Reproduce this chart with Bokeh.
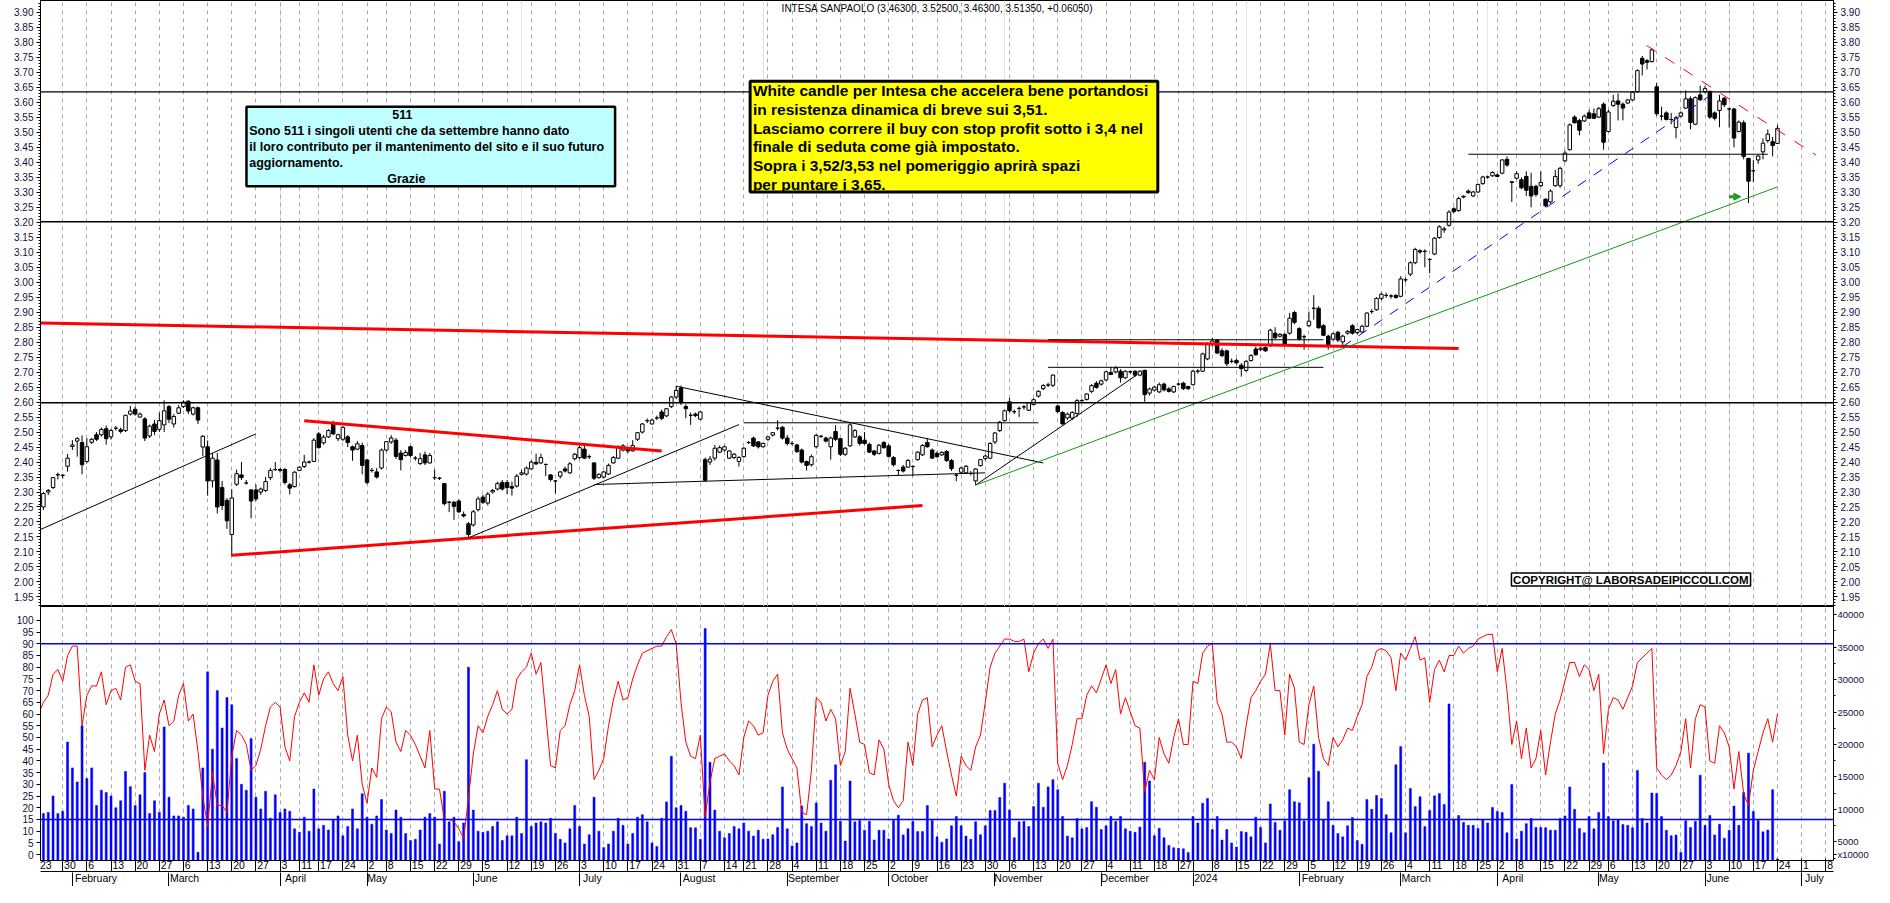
import pandas as pd
from bokeh.plotting import figure
from bokeh.layouts import column
from bokeh.models import (Range1d, LinearAxis, FixedTicker, Grid, Span, Label,
                          BoxAnnotation, NumeralTickFormatter, Arrow, NormalHead)
from bokeh.embed import file_html
from bokeh.resources import INLINE

# ---------------- data ----------------
opens = [
 2.235, 2.25, 2.30, 2.315, 2.357, 2.355, 2.386, 2.452, 2.47, 2.465,
 2.402, 2.466, 2.491, 2.491, 2.511, 2.484, 2.513, 2.508, 2.505, 2.56,
 2.576, 2.55, 2.544, 2.487, 2.527, 2.509, 2.524, 2.585, 2.527, 2.563,
 2.585, 2.603, 2.56, 2.581, 2.45, 2.451, 2.337, 2.407, 2.315, 2.272,
 2.158, 2.326, 2.357, 2.33, 2.307, 2.307, 2.30, 2.305, 2.348, 2.375,
 2.375, 2.375, 2.324, 2.318, 2.372, 2.385, 2.40, 2.402, 2.494, 2.464,
 2.484, 2.527, 2.478, 2.476, 2.484, 2.451, 2.443, 2.455, 2.407, 2.372,
 2.367, 2.38, 2.44, 2.467, 2.473, 2.43, 2.422, 2.451, 2.413, 2.395,
 2.424, 2.397, 2.348, 2.346, 2.328, 2.266, 2.266, 2.27, 2.225, 2.194,
 2.19, 2.241, 2.283, 2.263, 2.30, 2.31, 2.332, 2.332, 2.318, 2.32,
 2.359, 2.36, 2.377, 2.399, 2.397, 2.392, 2.357, 2.337, 2.353, 2.377,
 2.364, 2.411, 2.415, 2.443, 2.418, 2.397, 2.348, 2.35, 2.36, 2.397,
 2.413, 2.44, 2.446, 2.437, 2.476, 2.50, 2.538, 2.527, 2.547, 2.567,
 2.554, 2.585, 2.617, 2.647, 2.585, 2.556, 2.56, 2.543, 2.408, 2.40,
 2.413, 2.433, 2.44, 2.413, 2.415, 2.402, 2.418, 2.465, 2.48, 2.467,
 2.451, 2.476, 2.49, 2.513, 2.516, 2.48, 2.462, 2.457, 2.44, 2.402,
 2.391, 2.451, 2.486, 2.48, 2.451, 2.502, 2.478, 2.426, 2.454, 2.484,
 2.484, 2.473, 2.459, 2.437, 2.429, 2.465, 2.454, 2.415, 2.372, 2.383,
 2.383, 2.385, 2.408, 2.424, 2.465, 2.44, 2.429, 2.424, 2.435, 2.405,
 2.356, 2.366, 2.364, 2.362, 2.337, 2.388, 2.412, 2.413, 2.467, 2.505,
 2.538, 2.601, 2.568, 2.579, 2.584, 2.573, 2.592, 2.62, 2.645, 2.657,
 2.656, 2.587, 2.565, 2.547, 2.547, 2.562, 2.605, 2.609, 2.636, 2.663,
 2.66, 2.674, 2.699, 2.701, 2.703, 2.681, 2.701, 2.703, 2.69, 2.706,
 2.63, 2.64, 2.634, 2.66, 2.644, 2.634, 2.66, 2.663, 2.652, 2.658,
 2.703, 2.703, 2.744, 2.793, 2.807, 2.771, 2.771, 2.736, 2.739, 2.723,
 2.706, 2.739, 2.777, 2.775, 2.782, 2.788, 2.83, 2.82, 2.826, 2.83,
 2.899, 2.845, 2.818, 2.855, 2.913, 2.913, 2.855, 2.82, 2.81, 2.833,
 2.801, 2.83, 2.855, 2.832, 2.834, 2.853, 2.902, 2.908, 2.946, 2.956,
 2.954, 2.956, 2.953, 3.008, 3.027, 3.065, 3.105, 3.103, 3.076, 3.094,
 3.149, 3.175, 3.19, 3.245, 3.239, 3.284, 3.304, 3.288, 3.301, 3.329,
 3.351, 3.355, 3.358, 3.364, 3.41, 3.335, 3.347, 3.342, 3.353, 3.32,
 3.32, 3.322, 3.277, 3.268, 3.322, 3.322, 3.405, 3.442, 3.551, 3.54,
 3.538, 3.565, 3.562, 3.551, 3.594, 3.503, 3.59, 3.605, 3.594, 3.598,
 3.608, 3.636, 3.747, 3.739, 3.736, 3.652, 3.554, 3.565, 3.543, 3.516,
 3.554, 3.581, 3.612, 3.527, 3.625, 3.636, 3.636, 3.565, 3.573, 3.614,
 3.578, 3.578, 3.503, 3.532, 3.413, 3.372, 3.408, 3.435, 3.473, 3.469,
 3.463]

highs = [
 2.25, 2.30, 2.31, 2.35, 2.365, 2.36, 2.427, 2.473, 2.483, 2.489,
 2.48, 2.48, 2.50, 2.515, 2.522, 2.51, 2.52, 2.515, 2.558, 2.587,
 2.585, 2.565, 2.55, 2.525, 2.54, 2.565, 2.606, 2.59, 2.56, 2.59,
 2.606, 2.606, 2.585, 2.585, 2.49, 2.472, 2.43, 2.43, 2.337, 2.28,
 2.31, 2.375, 2.40, 2.34, 2.31, 2.325, 2.315, 2.35, 2.38, 2.40,
 2.38, 2.38, 2.33, 2.37, 2.385, 2.424, 2.405, 2.48, 2.50, 2.49,
 2.51, 2.538, 2.495, 2.52, 2.49, 2.455, 2.47, 2.465, 2.41, 2.38,
 2.38, 2.445, 2.47, 2.49, 2.48, 2.44, 2.44, 2.455, 2.42, 2.43,
 2.435, 2.43, 2.375, 2.35, 2.33, 2.27, 2.27, 2.275, 2.235, 2.20,
 2.24, 2.285, 2.29, 2.30, 2.31, 2.335, 2.34, 2.34, 2.335, 2.36,
 2.375, 2.385, 2.405, 2.428, 2.428, 2.395, 2.36, 2.34, 2.37, 2.385,
 2.40, 2.43, 2.455, 2.462, 2.425, 2.40, 2.362, 2.37, 2.395, 2.42,
 2.455, 2.46, 2.45, 2.473, 2.50, 2.53, 2.545, 2.545, 2.555, 2.575,
 2.58, 2.62, 2.655, 2.655, 2.593, 2.565, 2.565, 2.57, 2.415, 2.42,
 2.457, 2.455, 2.455, 2.44, 2.43, 2.42, 2.45, 2.47, 2.485, 2.47,
 2.465, 2.487, 2.50, 2.54, 2.52, 2.49, 2.47, 2.46, 2.445, 2.405,
 2.425, 2.495, 2.49, 2.485, 2.485, 2.523, 2.48, 2.45, 2.53, 2.51,
 2.49, 2.50, 2.465, 2.44, 2.46, 2.47, 2.46, 2.42, 2.375, 2.39,
 2.41, 2.39, 2.436, 2.46, 2.48, 2.445, 2.435, 2.436, 2.44, 2.41,
 2.36, 2.385, 2.39, 2.37, 2.38, 2.41, 2.425, 2.466, 2.50, 2.537,
 2.575, 2.614, 2.575, 2.585, 2.59, 2.60, 2.612, 2.64, 2.66, 2.665,
 2.693, 2.59, 2.57, 2.565, 2.57, 2.61, 2.61, 2.63, 2.66, 2.67,
 2.675, 2.705, 2.718, 2.72, 2.71, 2.706, 2.706, 2.706, 2.706, 2.708,
 2.648, 2.655, 2.665, 2.665, 2.65, 2.655, 2.665, 2.668, 2.655, 2.708,
 2.71, 2.765, 2.80, 2.815, 2.81, 2.78, 2.775, 2.745, 2.745, 2.73,
 2.74, 2.76, 2.785, 2.785, 2.786, 2.845, 2.85, 2.83, 2.83, 2.897,
 2.905, 2.85, 2.825, 2.902, 2.957, 2.92, 2.86, 2.825, 2.832, 2.838,
 2.825, 2.84, 2.86, 2.845, 2.858, 2.90, 2.91, 2.95, 2.965, 2.965,
 2.96, 2.96, 3.02, 3.015, 3.07, 3.115, 3.11, 3.11, 3.08, 3.15,
 3.19, 3.185, 3.24, 3.25, 3.285, 3.29, 3.31, 3.305, 3.33, 3.355,
 3.356, 3.37, 3.362, 3.41, 3.42, 3.337, 3.37, 3.35, 3.37, 3.365,
 3.325, 3.37, 3.28, 3.31, 3.375, 3.385, 3.44, 3.53, 3.557, 3.545,
 3.56, 3.575, 3.58, 3.585, 3.60, 3.575, 3.625, 3.63, 3.60, 3.612,
 3.638, 3.71, 3.755, 3.745, 3.78, 3.665, 3.586, 3.57, 3.565, 3.555,
 3.57, 3.64, 3.62, 3.62, 3.656, 3.655, 3.64, 3.57, 3.625, 3.618,
 3.582, 3.582, 3.54, 3.54, 3.415, 3.408, 3.425, 3.48, 3.51, 3.485,
 3.525]

lows = [
 2.225, 2.24, 2.29, 2.31, 2.342, 2.345, 2.368, 2.44, 2.418, 2.359,
 2.395, 2.46, 2.47, 2.485, 2.458, 2.475, 2.505, 2.495, 2.50, 2.555,
 2.555, 2.548, 2.47, 2.48, 2.49, 2.50, 2.50, 2.53, 2.515, 2.56,
 2.58, 2.56, 2.555, 2.527, 2.42, 2.288, 2.315, 2.228, 2.24, 2.177,
 2.087, 2.32, 2.34, 2.325, 2.212, 2.27, 2.29, 2.30, 2.34, 2.37,
 2.365, 2.325, 2.292, 2.315, 2.37, 2.38, 2.395, 2.40, 2.445, 2.458,
 2.48, 2.49, 2.47, 2.47, 2.45, 2.404, 2.44, 2.359, 2.326, 2.365,
 2.345, 2.375, 2.435, 2.46, 2.41, 2.372, 2.418, 2.415, 2.405, 2.39,
 2.39, 2.395, 2.34, 2.34, 2.255, 2.233, 2.207, 2.23, 2.215, 2.149,
 2.185, 2.235, 2.26, 2.255, 2.295, 2.305, 2.305, 2.293, 2.288, 2.315,
 2.355, 2.355, 2.375, 2.39, 2.393, 2.353, 2.335, 2.295, 2.345, 2.365,
 2.36, 2.405, 2.41, 2.41, 2.41, 2.34, 2.345, 2.345, 2.357, 2.395,
 2.41, 2.435, 2.43, 2.435, 2.47, 2.495, 2.53, 2.525, 2.54, 2.54,
 2.55, 2.58, 2.61, 2.59, 2.546, 2.524, 2.55, 2.54, 2.335, 2.39,
 2.405, 2.43, 2.435, 2.41, 2.41, 2.385, 2.415, 2.46, 2.45, 2.445,
 2.448, 2.47, 2.485, 2.505, 2.475, 2.455, 2.455, 2.43, 2.395, 2.372,
 2.385, 2.445, 2.48, 2.465, 2.408, 2.47, 2.42, 2.42, 2.45, 2.48,
 2.455, 2.458, 2.43, 2.42, 2.425, 2.445, 2.415, 2.385, 2.353, 2.365,
 2.38, 2.353, 2.405, 2.42, 2.448, 2.41, 2.414, 2.42, 2.40, 2.37,
 2.336, 2.36, 2.36, 2.355, 2.323, 2.385, 2.405, 2.41, 2.46, 2.50,
 2.535, 2.565, 2.56, 2.55, 2.575, 2.57, 2.59, 2.615, 2.64, 2.65,
 2.65, 2.565, 2.525, 2.54, 2.54, 2.55, 2.60, 2.605, 2.63, 2.645,
 2.655, 2.67, 2.69, 2.695, 2.665, 2.678, 2.695, 2.685, 2.686, 2.601,
 2.622, 2.635, 2.63, 2.635, 2.632, 2.63, 2.655, 2.64, 2.64, 2.655,
 2.695, 2.70, 2.74, 2.785, 2.76, 2.75, 2.72, 2.73, 2.725, 2.685,
 2.70, 2.735, 2.755, 2.77, 2.768, 2.785, 2.81, 2.815, 2.79, 2.825,
 2.86, 2.805, 2.775, 2.85, 2.875, 2.845, 2.82, 2.775, 2.805, 2.80,
 2.79, 2.825, 2.825, 2.825, 2.83, 2.85, 2.895, 2.905, 2.94, 2.948,
 2.945, 2.945, 2.95, 3.0, 3.02, 3.06, 3.095, 3.05, 3.03, 3.09,
 3.145, 3.165, 3.185, 3.23, 3.235, 3.28, 3.295, 3.284, 3.298, 3.325,
 3.345, 3.352, 3.35, 3.36, 3.385, 3.268, 3.343, 3.31, 3.288, 3.25,
 3.285, 3.318, 3.25, 3.262, 3.318, 3.315, 3.40, 3.44, 3.53, 3.49,
 3.535, 3.545, 3.545, 3.548, 3.442, 3.50, 3.585, 3.54, 3.54, 3.595,
 3.605, 3.632, 3.69, 3.71, 3.733, 3.555, 3.54, 3.54, 3.527, 3.48,
 3.55, 3.578, 3.51, 3.525, 3.605, 3.63, 3.545, 3.54, 3.517, 3.585,
 3.516, 3.45, 3.50, 3.41, 3.264, 3.335, 3.395, 3.41, 3.465, 3.42,
 3.463]

closes = [
 2.245, 2.295, 2.305, 2.348, 2.358, 2.356, 2.413, 2.457, 2.478, 2.391,
 2.451, 2.476, 2.476, 2.509, 2.478, 2.505, 2.513, 2.502, 2.556, 2.57,
 2.56, 2.56, 2.48, 2.52, 2.502, 2.538, 2.571, 2.543, 2.552, 2.581,
 2.60, 2.57, 2.581, 2.54, 2.486, 2.337, 2.413, 2.25, 2.255, 2.204,
 2.28, 2.361, 2.348, 2.33, 2.27, 2.277, 2.31, 2.335, 2.372, 2.375,
 2.372, 2.332, 2.313, 2.366, 2.383, 2.40, 2.40, 2.473, 2.448, 2.483,
 2.505, 2.494, 2.491, 2.516, 2.465, 2.44, 2.461, 2.389, 2.332, 2.372,
 2.35, 2.44, 2.468, 2.48, 2.419, 2.408, 2.432, 2.422, 2.413, 2.411,
 2.397, 2.422, 2.348, 2.346, 2.261, 2.266, 2.252, 2.234, 2.22, 2.158,
 2.234, 2.277, 2.266, 2.293, 2.305, 2.328, 2.31, 2.315, 2.313, 2.353,
 2.364, 2.38, 2.40, 2.394, 2.415, 2.392, 2.342, 2.337, 2.367, 2.37,
 2.394, 2.426, 2.448, 2.413, 2.418, 2.346, 2.359, 2.367, 2.389, 2.415,
 2.451, 2.454, 2.437, 2.455, 2.498, 2.527, 2.538, 2.54, 2.547, 2.546,
 2.578, 2.617, 2.639, 2.598, 2.578, 2.556, 2.555, 2.567, 2.339, 2.41,
 2.446, 2.448, 2.451, 2.437, 2.426, 2.415, 2.446, 2.465, 2.454, 2.451,
 2.462, 2.484, 2.498, 2.513, 2.48, 2.462, 2.462, 2.435, 2.40, 2.389,
 2.418, 2.489, 2.486, 2.47, 2.48, 2.476, 2.426, 2.446, 2.524, 2.505,
 2.462, 2.462, 2.433, 2.426, 2.456, 2.448, 2.419, 2.391, 2.372, 2.37,
 2.405, 2.385, 2.433, 2.455, 2.451, 2.413, 2.418, 2.432, 2.405, 2.378,
 2.356, 2.38, 2.386, 2.362, 2.377, 2.408, 2.42, 2.462, 2.497, 2.533,
 2.571, 2.571, 2.568, 2.579, 2.584, 2.598, 2.608, 2.636, 2.655, 2.657,
 2.69, 2.568, 2.527, 2.56, 2.565, 2.605, 2.605, 2.627, 2.655, 2.649,
 2.671, 2.701, 2.692, 2.714, 2.681, 2.703, 2.701, 2.69, 2.703, 2.625,
 2.644, 2.65, 2.658, 2.641, 2.636, 2.652, 2.66, 2.645, 2.645, 2.703,
 2.703, 2.761, 2.793, 2.804, 2.764, 2.755, 2.728, 2.736, 2.731, 2.712,
 2.736, 2.755, 2.758, 2.78, 2.771, 2.84, 2.815, 2.826, 2.793, 2.88,
 2.866, 2.81, 2.818, 2.87, 2.913, 2.848, 2.823, 2.79, 2.828, 2.807,
 2.82, 2.836, 2.83, 2.842, 2.853, 2.897, 2.902, 2.946, 2.96, 2.956,
 2.954, 2.949, 3.011, 3.008, 3.065, 3.109, 3.101, 3.103, 3.076, 3.147,
 3.185, 3.178, 3.234, 3.236, 3.279, 3.287, 3.299, 3.301, 3.326, 3.351,
 3.351, 3.366, 3.353, 3.408, 3.391, 3.333, 3.362, 3.315, 3.307, 3.288,
 3.293, 3.333, 3.255, 3.304, 3.353, 3.38, 3.431, 3.525, 3.532, 3.507,
 3.554, 3.547, 3.547, 3.579, 3.467, 3.568, 3.604, 3.594, 3.581, 3.608,
 3.634, 3.706, 3.728, 3.734, 3.775, 3.562, 3.554, 3.543, 3.543, 3.549,
 3.565, 3.612, 3.533, 3.616, 3.609, 3.646, 3.551, 3.547, 3.605, 3.592,
 3.578, 3.481, 3.534, 3.42, 3.337, 3.372, 3.421, 3.464, 3.494, 3.456,
 3.5135]

oscillator = [
 60, 65, 68, 77, 79, 74, 85, 89, 89, 55,
 68, 72, 72, 78, 64, 70, 71, 66, 80, 81,
 74, 73, 36, 51, 44, 60, 66, 55, 57, 68,
 73, 57, 60, 44, 25, 12, 35, 21, 21, 18,
 42, 53, 51, 47, 36, 38, 45, 55, 63, 65,
 63, 46, 40, 59, 65, 69, 65, 81, 68, 75,
 78, 73, 70, 76, 51, 40, 51, 30, 22, 37,
 33, 58, 63, 61, 48, 44, 53, 51, 47, 42,
 37, 53, 28, 28, 15, 15, 14, 11, 7, 24,
 43, 55, 52, 59, 64, 70, 62, 60, 62, 75,
 78, 80, 86, 77, 82, 60, 38, 37, 53, 55,
 64, 70, 81, 68, 59, 32, 36, 41, 55, 66,
 74, 66, 67, 75, 81, 86, 87, 88, 89, 89,
 93, 96, 90, 65, 48, 42, 41, 51, 16, 31,
 41, 42, 43, 40, 38, 34, 50, 57, 55, 51,
 52, 68, 74, 77, 52, 45, 41, 37, 18, 17,
 36, 67, 65, 57, 62, 58, 38, 44, 71, 60,
 48, 47, 35, 34, 49, 45, 30, 23, 20, 23,
 48, 38, 60, 66, 67, 46, 51, 55, 44, 34,
 25, 42, 38, 36, 46, 51, 65, 80, 86, 89,
 92, 92, 91, 91, 92, 78, 86, 90, 92, 88,
 92, 39, 32, 38, 47, 58, 58, 68, 72, 69,
 75, 81, 73, 79, 60, 67, 61, 55, 54, 27,
 36, 32, 50, 43, 39, 50, 58, 47, 47, 74,
 73, 86, 89, 90, 65, 60, 48, 48, 46, 41,
 55, 67, 70, 74, 77, 90, 70, 70, 51, 77,
 71, 48, 47, 64, 72, 50, 41, 38, 50, 46,
 49, 54, 53, 59, 64, 76, 80, 87, 88, 87,
 84, 70, 86, 83, 88, 93, 83, 84, 65, 79,
 83, 78, 85, 85, 89, 86, 88, 89, 92, 93,
 94, 94, 78, 88, 70, 47, 57, 41, 54, 37,
 41, 53, 34, 48, 60, 66, 74, 82, 82, 76,
 81, 79, 70, 77, 43, 62, 67, 66, 62, 67,
 72, 82, 84, 86, 88, 37, 34, 32, 34, 38,
 44, 58, 37, 58, 64, 63, 40, 39, 55, 52,
 46, 28, 44, 26, 21, 36, 44, 52, 58, 48,
 60]

volume = [
 9170, 9350, 9530, 12060, 9350, 9710, 20360, 16390, 14220, 22880,
 14760, 16390, 10610, 12960, 12600, 12060, 10250, 11330, 15850, 13500,
 10610, 12240, 15670, 9350, 11330, 9530, 22700, 11870, 8990, 8990,
 8800, 10610, 10070, 3390, 16390, 31190, 19280, 28300, 22520, 27220,
 26130, 17830, 13860, 12960, 20900, 11870, 10070, 12780, 8620, 12240,
 9530, 10070, 9710, 7000, 6460, 8800, 6640, 13140, 7000, 7540,
 6820, 8440, 8990, 5920, 7360, 10070, 7000, 12420, 8800, 7720,
 8990, 11510, 6820, 6280, 9890, 8800, 6280, 5200, 5380, 6820,
 8800, 9350, 8800, 4650, 12780, 8080, 8800, 5020, 7900, 31910,
 9890, 6640, 6460, 6640, 7360, 8080, 5200, 5920, 5920, 8800,
 6280, 17650, 7360, 7900, 8080, 7900, 8620, 6280, 5380, 4830,
 7000, 10610, 7360, 4650, 6100, 11870, 6640, 4110, 4650, 6640,
 8620, 7540, 4650, 6280, 8800, 9170, 8080, 4830, 4290, 8620,
 11150, 18190, 10250, 10610, 9710, 7180, 7150, 5380, 37870, 17250,
 9890, 6640, 5630, 6280, 7360, 7000, 7900, 6640, 5880, 6780,
 5380, 5450, 6100, 7220, 13460, 7000, 4370, 4830, 10500, 7800,
 7360, 10970, 7900, 6640, 14470, 16860, 8160, 5120, 14370, 8080,
 8300, 6780, 8160, 5270, 6780, 6780, 5450, 8300, 9100, 6060,
 7000, 8160, 6570, 6570, 10610, 8300, 5770, 4940, 5450, 7470,
 8910, 7470, 5880, 5380, 8080, 6100, 7470, 9820, 9820, 11840,
 14040, 9890, 5630, 8080, 8160, 7360, 10430, 14040, 10320, 13460,
 14580, 13030, 8910, 5880, 5630, 8590, 7000, 7220, 11190, 10320,
 6890, 7470, 8910, 8160, 8910, 7000, 6640, 6460, 7290, 17250,
 14370, 5950, 7070, 5630, 4440, 4080, 4000, 3930, 3350, 8910,
 7900, 10940, 11690, 6890, 8910, 5270, 6890, 4830, 4190, 6570,
 6460, 5770, 8800, 7220, 4830, 10830, 7980, 6780, 8230, 13030,
 11190, 11010, 8230, 14870, 20030, 15880, 8410, 11190, 7540, 6280,
 5770, 7470, 8730, 5200, 4620, 11510, 10000, 12130, 11690, 9170,
 6390, 16860, 19670, 6390, 13210, 10430, 11950, 7360, 9820, 12090,
 12450, 10750, 26240, 8410, 9060, 7980, 7540, 7540, 7040, 8410,
 7900, 10290, 9670, 9530, 6390, 13820, 5450, 6640, 7800, 8590,
 7220, 7220, 7180, 6780, 6780, 8590, 8990, 13460, 10000, 7040,
 6390, 8910, 7000, 9530, 17150, 8910, 8230, 8410, 7650, 7540,
 7150, 15990, 8590, 7900, 12520, 12450, 8910, 6780, 5950, 6030,
 3350, 8230, 7220, 8160, 15270, 7540, 9060, 6060, 7690, 5560,
 6780, 10500, 7540, 12600, 18660, 9670, 8300, 6530, 6820, 13030,
 2340]

# trend lines drawn on the price panel: (start day, start price, end day, end price)
trend_x0 = [0.0, 0.0, 55.0, 40.0, 89.0, 115.0, 132.0, 146.0, 194.0, 209.0, 209.0, 194.0, 270.0, 332.9, 296.0]
trend_y0 = [2.172, 2.864, 2.538, 2.089, 2.147, 2.325, 2.653, 2.531, 2.323, 2.716, 2.808, 2.323, 2.785, 3.790, 3.427]
trend_x1 = [45.0, 294.0, 129.0, 183.0, 145.0, 196.0, 208.0, 207.0, 227.3, 266.0, 266.0, 360.0, 345.7, 368.0, 358.0]
trend_y1 = [2.494, 2.779, 2.437, 2.255, 2.525, 2.364, 2.397, 2.531, 2.690, 2.716, 2.808, 3.318, 3.619, 3.424, 3.427]
trend_color = ["black", "#FF0000", "#FF0000", "#FF0000", "black", "black", "black", "black", "black",
               "black", "black", "#119911", "#0000FF", "#FF0000", "black"]
trend_width = [1, 3, 3, 3, 1, 1, 1, 1, 1, 1, 1, 1, 1, 1, 1]
trend_dash = ["solid"] * 12 + ["10 9", "11 11", "solid"]

resistance_levels = [3.635, 3.202, 2.598]
osc_levels = [90, 15]

price_ticks = [round(1.95 + 0.05 * k, 2) for k in range(40)]
osc_ticks = list(range(0, 101, 5))
vol_ticks = list(range(5000, 40001, 5000))
vol_unit_label = "x10000"

day_labels = ["23", "30", "6", "13", "20", "27", "6", "13", "20", "27", "3", "11", "17", "24",
              "2", "8", "15", "22", "29", "5", "12", "19", "26", "3", "10", "17", "24", "31",
              "7", "14", "21", "28", "4", "11", "18", "25", "2", "9", "16", "23", "30",
              "6", "13", "20", "27", "4", "11", "18", "27",
              "", "8", "15", "22", "29", "5", "12", "19", "26", "4", "11", "18", "25",
              "2", "8", "15", "22", "29", "6", "13", "20", "27", "3", "10", "17", "24", "1", "8"]
month_labels = ["February", "March", "April", "May", "June", "July", "August", "September",
                "October", "November", "December", "2024", "February", "March", "April",
                "May", "June", "July"]

title_text = "INTESA SANPAOLO (3.46300, 3.52500, 3.46300, 3.51350, +0.06050)"
yellow_lines = ["White candle per Intesa che accelera bene portandosi",
                "in resistenza dinamica di breve sui 3,51.",
                "Lasciamo correre il buy  con stop profit sotto i 3,4 nel",
                "finale di seduta come già impostato.",
                " Sopra i 3,52/3,53 nel pomeriggio  aprirà spazi",
                "per puntare i 3,65."]
cyan_lines = ["Sono 511 i singoli utenti che da settembre hanno dato",
              "il loro contributo per il mantenimento del sito e il suo futuro",
              "aggiornamento."]

# ---------------- trading calendar (x scale = trading-day index) ----------------
HOLIDAYS = {"2023-04-07", "2023-04-10", "2023-05-01", "2023-08-15", "2023-12-25",
            "2023-12-26", "2024-01-01", "2024-03-29", "2024-04-01", "2024-05-01"}
days = [d for d in pd.bdate_range("2023-01-23", "2024-07-12") if d.strftime("%Y-%m-%d") not in HOLIDAYS]
week_idx, month_idx = [], []
for k, d in enumerate(days):
    if k == 0 or d.isocalendar()[1] != days[k - 1].isocalendar()[1]:
        week_idx.append(k)
    if k > 0 and d.month != days[k - 1].month:
        month_idx.append(k)
week_idx = week_idx[:len(day_labels)]
month_idx = month_idx[:len(month_labels)]

N = len(closes)
idx = list(range(N))
assert len(opens) == len(highs) == len(lows) == N == len(oscillator) == len(volume)

# ---------------- layout constants ----------------
W = 1872
BL, BR = 40, 39
X0, X1 = 0.4, 371.6
FRAME_W = W - BL - BR
PXI = FRAME_W / (X1 - X0)          # screen px per trading day
SANS = "Liberation Sans"
AXCOL = "#101038"


def X(px):  # reference-picture pixel -> day index
    return (px - 39.0) / 4.872


def Yp(py):  # reference-picture pixel -> price
    return 3.940 - py / 306.6


xr = Range1d(X0, X1)
dash_grid = dict(grid_line_color="#A8A8A8", grid_line_dash="4 4", grid_line_width=1)

# ---------------- price panel ----------------
p1 = figure(width=W, height=606, x_range=xr, y_range=Range1d(1.918, 3.940),
            output_backend="svg", toolbar_location=None, x_axis_location=None,
            min_border_left=BL, min_border_right=BR, min_border_top=0, min_border_bottom=0)
p1.outline_line_color = "black"
p1.ygrid.visible = False
p1.add_layout(Grid(dimension=0, ticker=FixedTicker(ticks=week_idx), **dash_grid))

price_ticker = FixedTicker(ticks=price_ticks,
                           minor_ticks=[round(1.92 + 0.01 * k, 2) for k in range(202)])


def style_y(ax, ticker, fmt=None):
    ax.ticker = ticker
    if fmt is not None:
        ax.formatter = fmt
    ax.major_tick_out = 4
    ax.major_tick_in = 0
    ax.minor_tick_out = 2
    ax.minor_tick_in = 0
    ax.major_label_standoff = 3
    ax.major_label_text_font = SANS
    ax.major_label_text_font_size = "10px"
    ax.major_label_text_color = AXCOL
    ax.axis_line_color = "black"
    ax.major_tick_line_color = "black"
    ax.minor_tick_line_color = "black"


style_y(p1.yaxis[0], price_ticker, NumeralTickFormatter(format="0.00"))
rax = LinearAxis()
style_y(rax, price_ticker, NumeralTickFormatter(format="0.00"))
p1.add_layout(rax, "right")

for lvl in resistance_levels:
    p1.add_layout(Span(location=lvl, dimension="width", line_color="black", line_width=1.4))

# candles
up = [k for k in idx if closes[k] >= opens[k]]
dn = [k for k in idx if closes[k] < opens[k]]
p1.segment(x0=idx, y0=highs, x1=idx, y1=lows, line_color="black", line_width=1)
p1.vbar(x=up, width=0.72, top=[closes[k] for k in up], bottom=[opens[k] for k in up],
        fill_color="white", line_color="black", line_width=1)
p1.vbar(x=dn, width=0.72, top=[opens[k] for k in dn], bottom=[closes[k] for k in dn],
        fill_color="black", line_color="black", line_width=1)

for k in range(len(trend_x0)):
    p1.line([trend_x0[k], trend_x1[k]], [trend_y0[k], trend_y1[k]], line_color=trend_color[k],
            line_width=trend_width[k], line_dash=trend_dash[k])

p1.add_layout(Arrow(end=NormalHead(size=7, fill_color="#229922", line_color="#229922"),
                    x_start=X(1744), y_start=Yp(200.7), x_end=X(1756), y_end=Yp(200.7),
                    line_color="#229922", line_width=3))


def add_text(fig, px, py, text, size, bold=False, align="left", font=SANS):
    fig.add_layout(Label(x=X(px), y=Yp(py), text=text, text_font=font,
                         text_font_size=f"{size}px", text_font_style="bold" if bold else "normal",
                         text_align=align, text_baseline="middle", text_color="black"))


add_text(p1, 945.5, 8.5, title_text, 10, align="center")

# cyan box
p1.add_layout(BoxAnnotation(left=X(248.7), right=X(620.5), top=Yp(108.7), bottom=Yp(190),
                            fill_color="#C0FFFF", fill_alpha=1, line_color="black",
                            line_width=2.5, line_alpha=1))
add_text(p1, 406, 116.5, "511", 12.5, bold=True, align="center")
for k, t in enumerate(cyan_lines):
    add_text(p1, 251.5, 133.5 + 16.3 * k, t, 12.5, bold=True)
add_text(p1, 410, 182.5, "Grazie", 12.5, bold=True, align="center")

# yellow box
p1.add_layout(BoxAnnotation(left=X(756.7), right=X(1167.9), top=Yp(82.7), bottom=Yp(196),
                            fill_color="#FFFF00", fill_alpha=1, line_color="black",
                            line_width=3, line_alpha=1))
for k, t in enumerate(yellow_lines):
    add_text(p1, 759.5, 92.5 + 19.05 * k, t, 15.5, bold=True)

# copyright
p1.add_layout(BoxAnnotation(left=X(1524.6), right=X(1765.8), top=Yp(585.7), bottom=Yp(599),
                            fill_color="white", fill_alpha=1, line_color="black",
                            line_width=1.5, line_alpha=1))
add_text(p1, 1645, 592.5, "COPYRIGHT@ LABORSADEIPICCOLI.COM", 11.5, bold=True, align="center")

# ---------------- oscillator / volume panel ----------------
p2 = figure(width=W, height=280, x_range=xr, y_range=Range1d(-2.5, 105.9),
            output_backend="svg", toolbar_location=None,
            min_border_left=BL, min_border_right=BR, min_border_top=0, min_border_bottom=0)
p2.extra_y_ranges = {"vol": Range1d(2118, 41259)}
p2.outline_line_color = "black"
p2.ygrid.visible = False
p2.xgrid.ticker = FixedTicker(ticks=week_idx)
p2.xgrid.grid_line_color = "#A8A8A8"
p2.xgrid.grid_line_dash = "4 4"

style_y(p2.yaxis[0], FixedTicker(ticks=osc_ticks))
p2.yaxis[0].minor_tick_out = 0
vax = LinearAxis(y_range_name="vol")
style_y(vax, FixedTicker(ticks=vol_ticks + [3000], minor_ticks=list(range(2500, 41000, 2500))))
vax.major_label_overrides = {3000: vol_unit_label}
vax.major_tick_out = 3
vax.minor_tick_out = 2
vax.major_label_standoff = 1
vax.major_label_text_font_size = "9.5px"
p2.add_layout(vax, "right")

p2.vbar(x=idx, top=volume, bottom=0, width=0.42, fill_color="#0000FF", line_color="#0000FF",
        line_width=0.5, y_range_name="vol")
p2.line(idx, oscillator, line_color="#FF0000", line_width=1)
for lvl in osc_levels:
    p2.add_layout(Span(location=lvl, dimension="width", line_color="#0000FF", line_width=1.5))


def plain_x_axis(ax, size):
    ax.major_tick_out = 0
    ax.major_tick_in = 0
    ax.minor_tick_out = 0
    ax.minor_tick_line_color = "black"
    ax.axis_line_color = "black"
    ax.major_label_standoff = 0
    ax.major_label_text_font = SANS
    ax.major_label_text_font_size = size
    ax.major_label_text_color = "black"


# day-number row (labels just right of each week's first trading day)
day_pos, day_over = [], {}
for w, s in zip(week_idx, day_labels):
    if s:
        pos = round(w + (1.4 + 2.9 * len(s)) / PXI, 4)
        day_pos.append(pos)
        day_over[pos] = s
xa = p2.xaxis[0]
xa.ticker = FixedTicker(ticks=day_pos)
xa.major_label_overrides = day_over
plain_x_axis(xa, "10.5px")
xa.minor_tick_in = 0

# month row; its inner minor ticks are the week separators of the day row
mon_pos, mon_over = [], {}
for m, s in zip(month_idx, month_labels):
    pos = round(m + (2.0 + 2.7 * len(s)) / PXI, 4)
    mon_pos.append(pos)
    mon_over[pos] = s
ma = LinearAxis(ticker=FixedTicker(ticks=mon_pos, minor_ticks=week_idx),
                major_label_overrides=mon_over)
plain_x_axis(ma, "10.5px")
ma.minor_tick_in = 13
p2.add_layout(ma, "below")

# bottom axis whose inner minor ticks are the month separators
ea = LinearAxis(ticker=FixedTicker(ticks=[], minor_ticks=month_idx))
plain_x_axis(ea, "1px")
ea.minor_tick_in = 14
ea.axis_line_color = None
p2.add_layout(ea, "below")

page = column(p1, p2)
open("out.html", "w").write(file_html(page, INLINE))
